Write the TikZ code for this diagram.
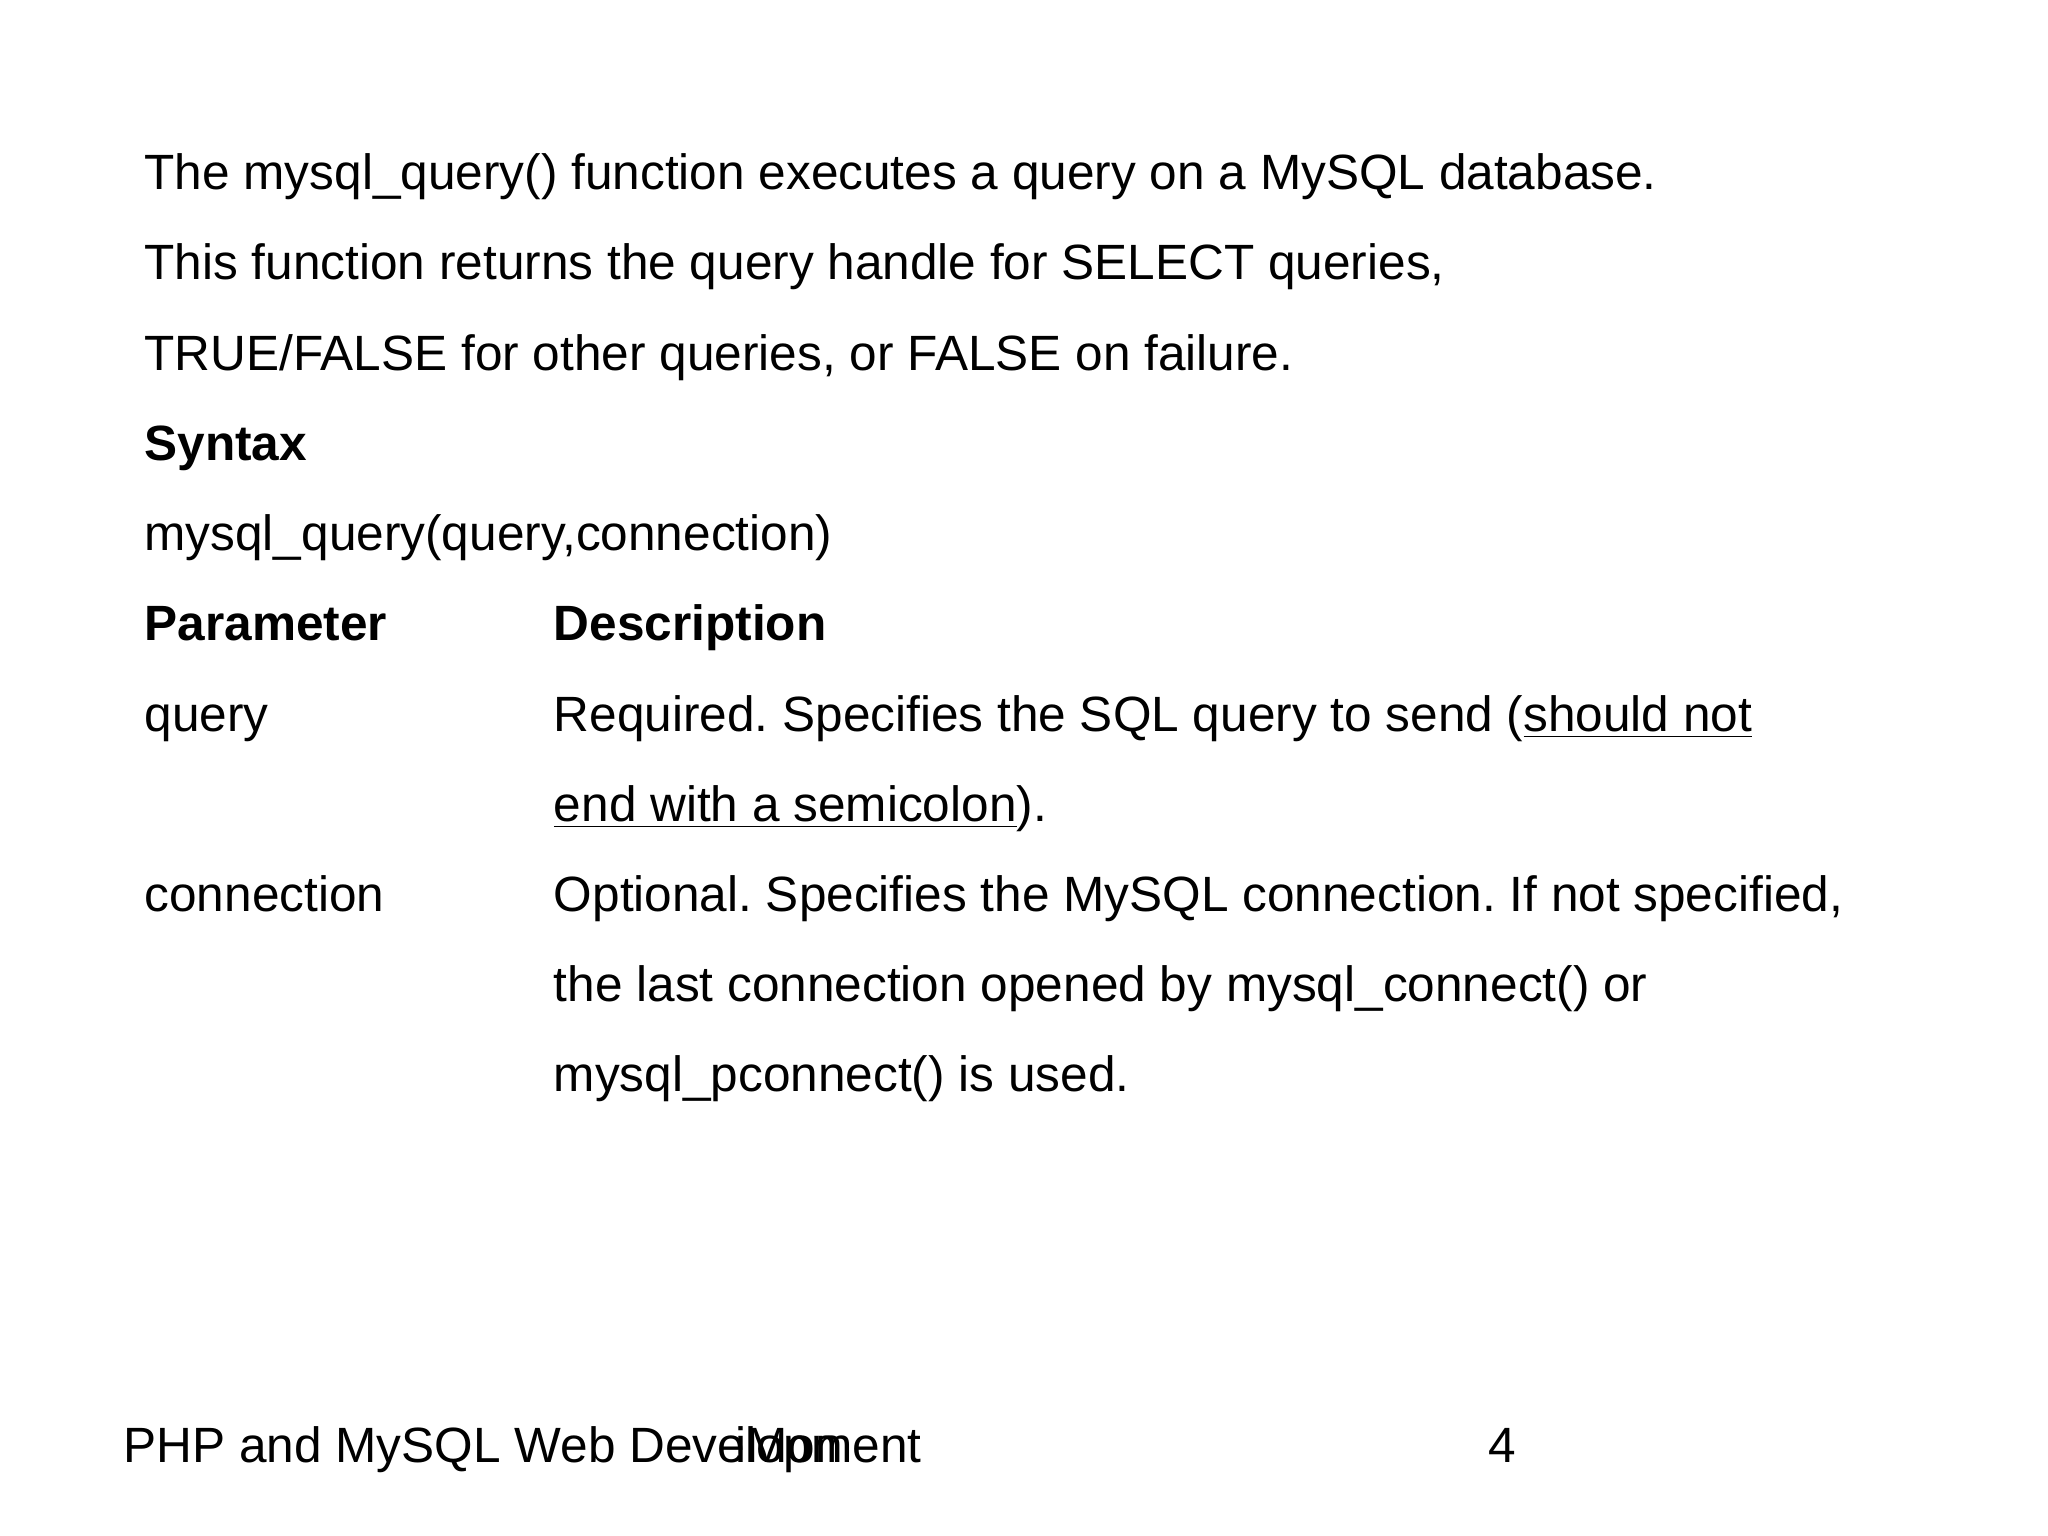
\documentclass[tikz,border=0pt]{standalone}
\usepackage{fontspec}
\setmainfont{Liberation Sans}
\frenchspacing
\begin{document}
\begin{tikzpicture}[x=0.013078cm,y=-0.013078cm,
  txt/.style={anchor=base west,inner sep=0pt,font=\fontsize{14.1pt}{17pt}\selectfont},
  bld/.style={txt,font=\fontsize{14.1pt}{17pt}\selectfont\bfseries}]
\useasboundingbox (0,0) rectangle (1566,1174.5);
\node[txt] (l1) at (110,145) {The mysql\_query() function executes a query on a MySQL database.};
\node[txt] (l2) at (110,214) {This function returns the query handle for SELECT queries,};
\node[txt] (l3) at (110,283) {TRUE/FALSE for other queries, or FALSE on failure.};
\node[bld] (l4) at (110,352) {Syntax};
\node[txt] (l5) at (110,421) {mysql\_query(query,connection)};
\node[bld] (p1) at (110,490) {Parameter};
\node[bld] (d1) at (423,490) {Description};
\node[txt] (p2) at (110,559) {query};
\node[txt] (d2) at (423,559) {Required. Specifies the SQL query to send (\underline{should not}};
\node[txt] (d3) at (423,628) {\underline{end with a semicolon}).};
\node[txt] (p3) at (110,697) {connection};
\node[txt] (d4) at (423,697) {Optional. Specifies the MySQL connection. If not specified,};
\node[txt] (d5) at (423,766) {the last connection opened by mysql\_connect() or};
\node[txt] (d6) at (423,835) {mysql\_pconnect() is used.};
\node[txt] (f1) at (94,1118) {PHP and MySQL Web Development};
\node[txt] (f2) at (562,1118) {iMon};
\node[txt] (f3) at (1138,1118) {4};
\end{tikzpicture}
\end{document}
